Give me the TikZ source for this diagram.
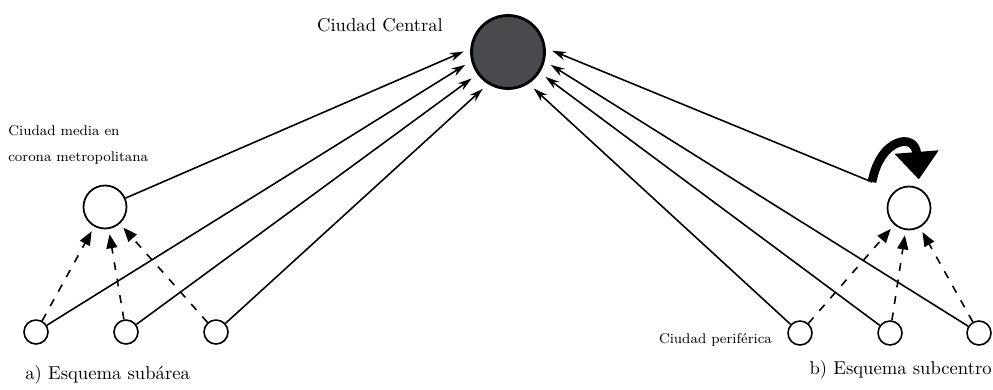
\documentclass[tikz,border=0pt]{standalone}
\usepackage{tikz}
\usetikzlibrary{arrows.meta,positioning}
\definecolor{cengray}{RGB}{72,74,78}
\tikzset{
  bigcity/.style={circle, draw=black, line width=1.6pt, fill=cengray,
                  minimum size=1.46cm, inner sep=0pt},
  midcity/.style={circle, draw=black, line width=1pt, minimum size=0.86cm, inner sep=0pt},
  smallcity/.style={circle, draw=black, line width=0.9pt, minimum size=0.48cm, inner sep=0pt},
  tocen/.style={-{Stealth[length=2.8mm, width=1.7mm]}, line width=0.9pt, shorten >=4pt},
  tomid/.style={-{Triangle[length=2.8mm, width=2.2mm]}, line width=0.9pt,
                dash pattern=on 4.5pt off 5pt, shorten >=3pt},
  bigarr/.style={-{Triangle[length=5.5mm, width=8.5mm]}, line width=5pt, shorten >=5pt},
  lbl/.style={font=\fontsize{10.6}{12}\selectfont, inner sep=0pt},
  smlbl/.style={font=\footnotesize, inner sep=0pt, align=left},
}

\begin{document}
\begin{tikzpicture}
    \useasboundingbox (0,0) rectangle (19.86,7.78);
    % central city
    \node[bigcity] (ctr) at (10.16,6.74) {};
    \node[lbl] (cenlbl) at (7.60,7.28) {Ciudad Central};
    % a) subarea
    \node[midcity] (lmed) at (2.10,3.64) {};
    \node[smlbl, anchor=west] (medlbl) at (0.16,4.88) {Ciudad media en\\[5.3pt]corona metropolitana};
    \foreach \nm/\x in {ls1/0.72, ls2/2.52, ls3/4.32}
      \node[smallcity] (\nm) at (\x,1.14) {};
    \node[lbl, anchor=west] (alabel) at (0.50,0.28) {a) Esquema subárea};
    \draw[tocen] (lmed) -- (ctr.175);
    \foreach \nm/\ang in {ls1/194, ls2/216, ls3/238}{
      \draw[tocen] (\nm) -- (ctr.\ang);
      \draw[tomid] (\nm) -- (lmed);
    }
    % b) subcentro
    \node[midcity] (rmed) at (18.18,3.62) {};
    \foreach \nm/\x in {rs1/16.00, rs2/17.80, rs3/19.58}
      \node[smallcity] (\nm) at (\x,1.12) {};
    \node[smlbl, left=0.3cm of rs1, yshift=-0.14cm] (perlbl) {Ciudad periférica};
    \node[lbl, anchor=east] (blabel) at (19.84,0.38) {b) Esquema subcentro};
    \coordinate (turn) at (17.44,4.14);
    \draw[tocen] (turn) -- (ctr.6);
    \draw[bigarr] (turn) .. controls (17.60,5.02) and (18.30,5.14) .. (rmed.62);
    \foreach \nm/\ang in {rs1/303, rs2/327, rs3/346}{
      \draw[tocen] (\nm) -- (ctr.\ang);
      \draw[tomid] (\nm) -- (rmed);
    }
\end{tikzpicture}
\end{document}
